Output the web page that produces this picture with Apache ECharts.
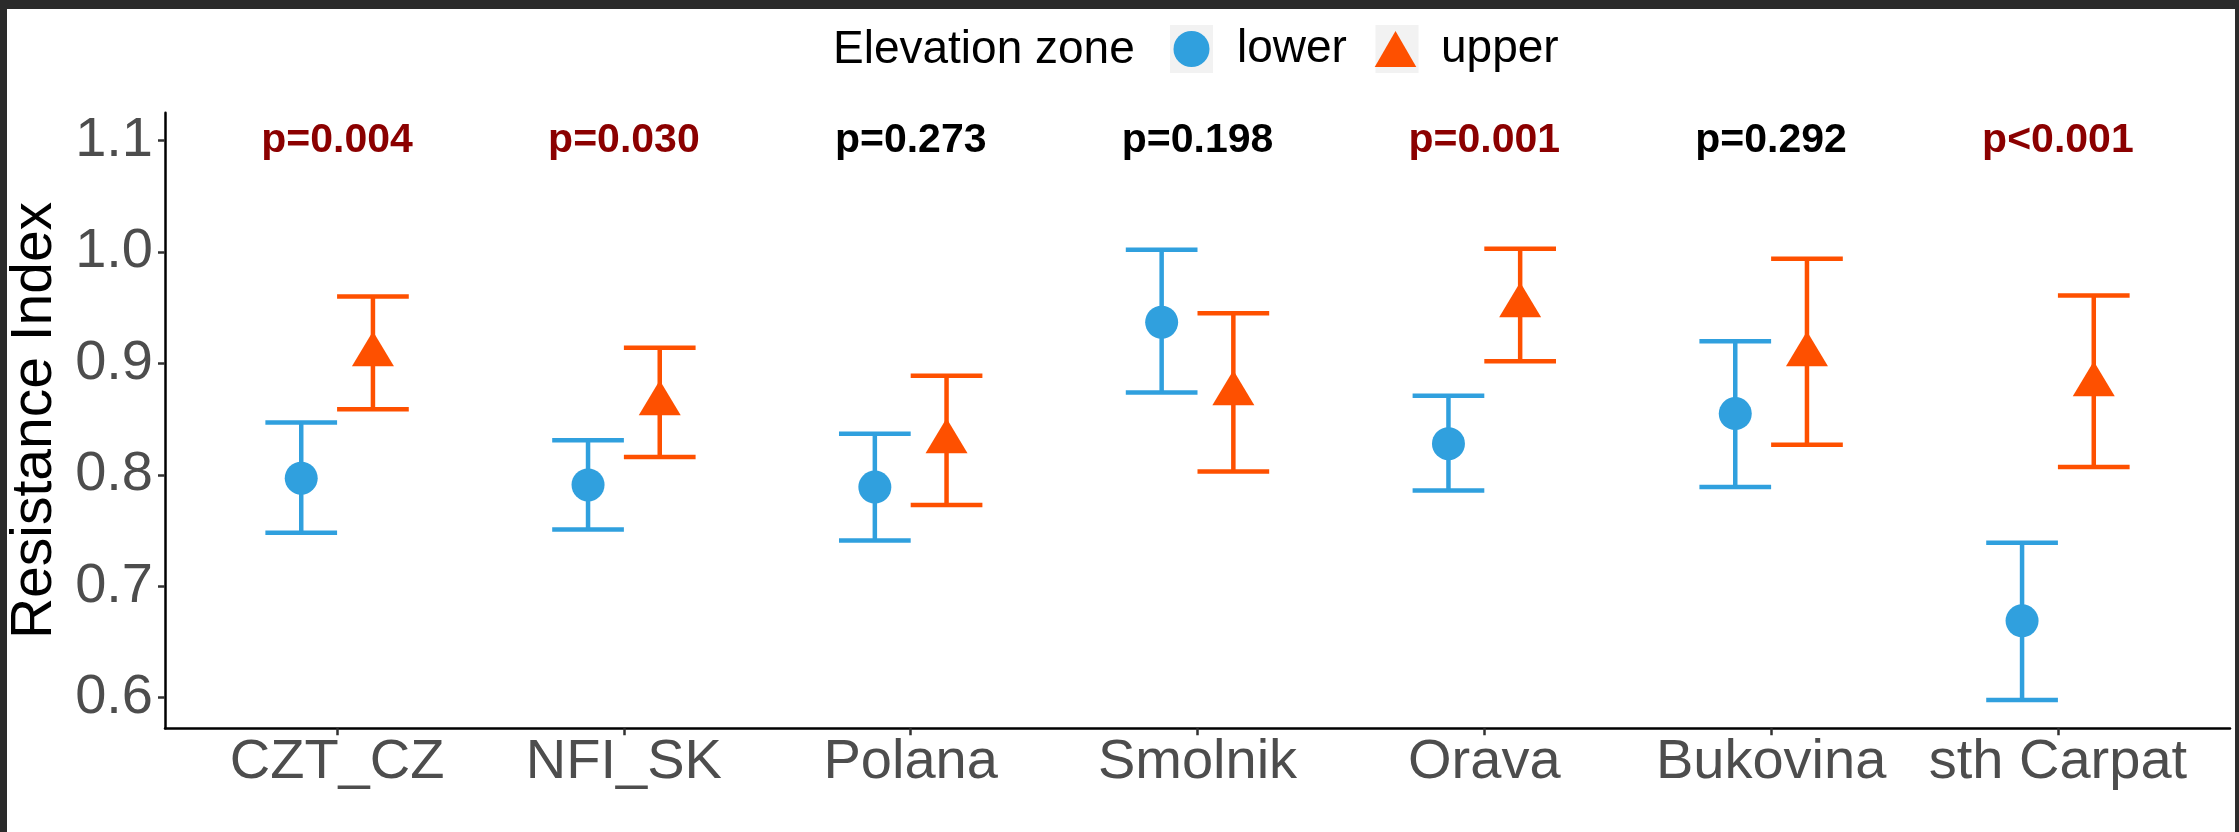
<!DOCTYPE html>
<html><head><meta charset="utf-8">
<script src="https://cdn.jsdelivr.net/npm/echarts@6/dist/echarts.min.js"></script>
<style>
html,body{margin:0;padding:0;width:2239px;height:832px;background:#2b2b2b;overflow:hidden;}
#chart{position:absolute;left:7px;top:9px;width:2228px;height:823px;background:#fff;}
</style></head><body><div id="chart"></div>
<script>
// ---- data ----
const categories = ['CZT_CZ', 'NFI_SK', 'Polana', 'Smolnik', 'Orava', 'Bukovina', 'sth Carpat'];
const lowerMean = [0.797, 0.791, 0.789, 0.937, 0.828, 0.855, 0.669];
const lowerLo   = [0.748, 0.751, 0.741, 0.874, 0.786, 0.789, 0.598];
const lowerHi   = [0.847, 0.831, 0.837, 1.002, 0.871, 0.920, 0.739];
const upperMean = [0.908, 0.864, 0.830, 0.873, 0.952, 0.908, 0.881];
const upperLo   = [0.859, 0.816, 0.773, 0.803, 0.902, 0.827, 0.807];
const upperHi   = [0.960, 0.914, 0.889, 0.945, 1.003, 0.994, 0.961];
const pLabels = ['p=0.004', 'p=0.030', 'p=0.273', 'p=0.198', 'p=0.001', 'p=0.292', 'p<0.001'];
const pValues = [0.004, 0.030, 0.273, 0.198, 0.001, 0.292, 0.0009];
const pLabelY = 1.1;
const yTicks = [0.6, 0.7, 0.8, 0.9, 1.0, 1.1];
const seriesNames = ['lower', 'upper'];
const legendTitle = 'Elevation zone';
const yTitle = 'Resistance Index';

// ---- style ----
const FONT = "'Liberation Sans', Arial, sans-serif";
const BLUE = '#30A0DE';
const ORANGE = '#FE5000';
const DARKRED = '#8B0000';
const DODGE = 0.125;
const CAP = 0.25;
const TRI = 'path://M50 0 L100 86.6 L0 86.6 Z';

function errData(lo, hi, off) {
  return categories.map((c, i) => [i + off, lo[i], hi[i]]);
}
function ptData(m, off) {
  return categories.map((c, i) => [i + off, m[i]]);
}
function errRender(color) {
  return function (params, api) {
    const x = api.value(0);
    const top = api.coord([x, api.value(2)]);
    const bot = api.coord([x, api.value(1)]);
    const hw = api.size([CAP, 0])[0] / 2;
    const st = { stroke: color, lineWidth: 4.5, lineCap: 'butt' };
    return { type: 'group', children: [
      { type: 'line', shape: { x1: top[0], y1: top[1], x2: bot[0], y2: bot[1] }, style: st },
      { type: 'line', shape: { x1: top[0] - hw, y1: top[1], x2: top[0] + hw, y2: top[1] }, style: st },
      { type: 'line', shape: { x1: bot[0] - hw, y1: bot[1], x2: bot[0] + hw, y2: bot[1] }, style: st }
    ]};
  };
}

const chart = echarts.init(document.getElementById('chart'), null, { renderer: 'canvas' });
const option = {
  animation: false,
  backgroundColor: '#ffffff',
  textStyle: { fontFamily: FONT },
  grid: { left: 158, top: 103.7, width: 2065, height: 615.6, containLabel: false, outerBoundsMode: 'none' },
  legend: {
    data: [
      { name: seriesNames[0], icon: 'circle' },
      { name: seriesNames[1], icon: TRI }
    ],
    left: 1166.5, top: 17, padding: 0,
    itemWidth: 81, itemHeight: 36, itemGap: 27.8,
    textStyle: { fontSize: 46, color: '#000', fontFamily: FONT },
    selectedMode: false
  },
  graphic: [
    { type: 'rect', left: 1163, top: 16, shape: { width: 43, height: 48 }, style: { fill: '#F2F2F2' }, z: 0 },
    { type: 'rect', left: 1368.5, top: 16, shape: { width: 43, height: 48 }, style: { fill: '#F2F2F2' }, z: 0 },
    { type: 'text', x: 826, y: 41, style: { text: legendTitle, fontSize: 46, fontFamily: FONT, fill: '#000', align: 'left', verticalAlign: 'middle' } }
  ],
  xAxis: {
    type: 'value', min: -0.6, max: 6.6,
    splitLine: { show: false },
    axisLine: { show: true, onZero: false, lineStyle: { color: '#000', width: 2.5 } },
    axisTick: { show: true, customValues: categories.map((c, i) => i), length: 7, lineStyle: { color: '#333', width: 2.5 } },
    axisLabel: { customValues: categories.map((c, i) => i), formatter: v => categories[Math.round(v)], fontSize: 56, color: '#4D4D4D', margin: 6, fontFamily: FONT }
  },
  yAxis: {
    type: 'value', min: 0.5725, max: 1.1251,
    name: yTitle, nameLocation: 'middle', nameGap: 88,
    nameTextStyle: { fontSize: 57, color: '#000', fontFamily: FONT },
    splitLine: { show: false },
    axisLine: { show: true, onZero: false, lineStyle: { color: '#000', width: 2.5 } },
    axisTick: { show: true, customValues: yTicks, length: 7, lineStyle: { color: '#333', width: 2.5 } },
    axisLabel: { customValues: yTicks, formatter: v => v.toFixed(1), fontSize: 56, color: '#4D4D4D', margin: 12, fontFamily: FONT }
  },
  series: [
    { name: 'lower CI', type: 'custom', renderItem: errRender(BLUE), data: errData(lowerLo, lowerHi, -DODGE), encode: { x: 0, y: [1, 2] }, z: 2 },
    { name: 'upper CI', type: 'custom', renderItem: errRender(ORANGE), data: errData(upperLo, upperHi, DODGE), encode: { x: 0, y: [1, 2] }, z: 2 },
    { name: seriesNames[0], type: 'scatter', symbol: 'circle', symbolSize: 33, data: ptData(lowerMean, -DODGE), itemStyle: { color: BLUE, opacity: 1 }, z: 3 },
    { name: seriesNames[1], type: 'scatter', symbol: TRI, symbolSize: [42, 35], symbolOffset: [0, -5.8], data: ptData(upperMean, DODGE), itemStyle: { color: ORANGE, opacity: 1 }, z: 3 },
    { name: 'p-values', type: 'custom', z: 4,
      data: categories.map((c, i) => [i, pLabelY, i]),
      encode: { x: 0, y: 1 },
      renderItem: function (params, api) {
        const i = api.value(2);
        const p = api.coord([api.value(0), api.value(1)]);
        return { type: 'text', x: p[0], y: p[1], style: {
          text: pLabels[i], fill: pValues[i] < 0.05 ? DARKRED : '#000',
          fontSize: 41, fontWeight: 'bold', fontFamily: FONT, align: 'center', verticalAlign: 'middle' } };
      }
    }
  ]
};
chart.setOption(option);
</script></body></html>
